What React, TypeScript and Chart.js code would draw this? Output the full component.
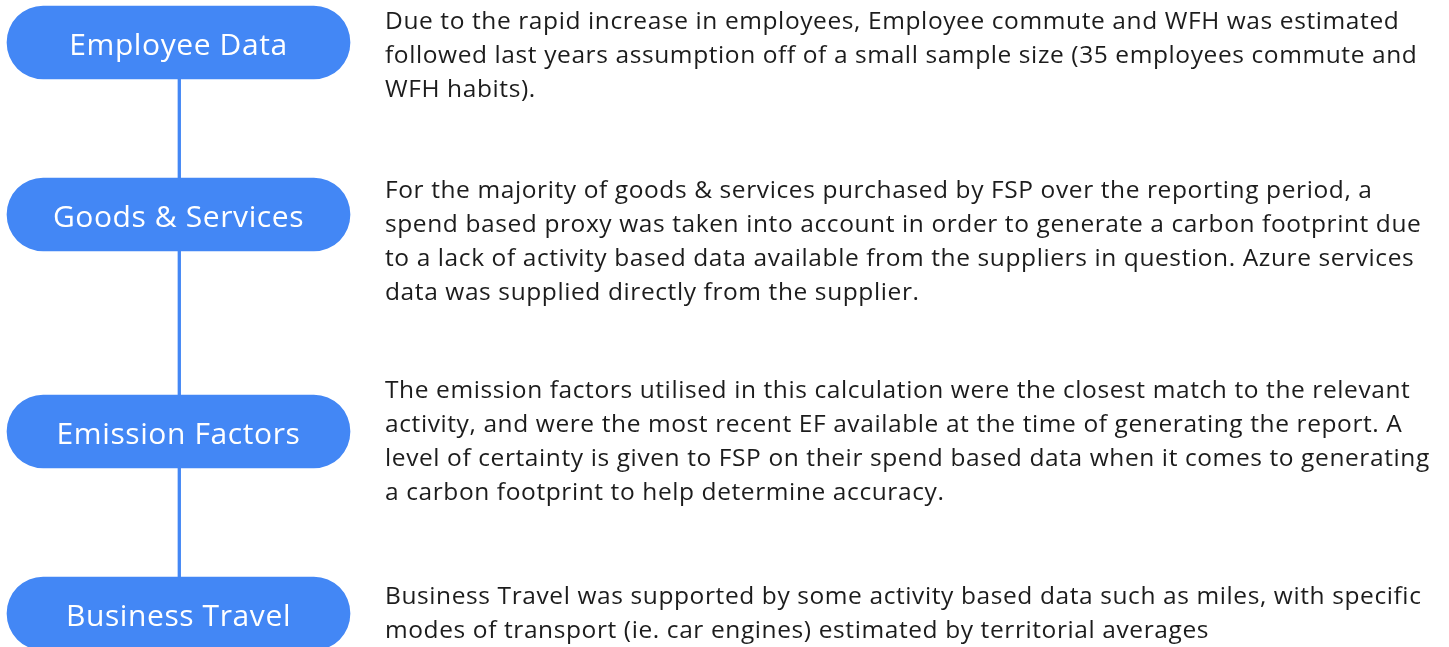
import React, { useEffect, useRef } from "react";
import { Chart, registerables } from "chart.js";

Chart.register(...registerables);

const WIDTH = 1449;
const HEIGHT = 647;

const steps = ["Employee Data", "Goods & Services", "Emission Factors", "Business Travel"];
const stepCenters = [42.5, 214.5, 431.5, 613.5];
const pillStart = 7;
const pillEnd = 350;
const connectorX = 179.3;

const descriptionX = 385;
const descriptionBaselines = [29.3, 198.3, 398.3, 603.7];
const lineStep = 33.8;
const descriptions: string[][] = [
  [
    "Due to the rapid increase in employees, Employee commute and WFH was estimated",
    "followed last years assumption off of a small sample size (35 employees commute and",
    "WFH habits).",
  ],
  [
    "For the majority of goods & services purchased by FSP over the reporting period, a",
    "spend based proxy was taken into account in order to generate a carbon footprint due",
    "to a lack of activity based data available from the suppliers in question. Azure services",
    "data was supplied directly from the supplier.",
  ],
  [
    "The emission factors utilised in this calculation were the closest match to the relevant",
    "activity, and were the most recent EF available at the time of generating the report. A",
    "level of certainty is given to FSP on their spend based data when it comes to generating",
    "a carbon footprint to help determine accuracy.",
  ],
  [
    "Business Travel was supported by some activity based data such as miles, with specific",
    "modes of transport (ie. car engines) estimated by territorial averages",
  ],
];

const BLUE = "#4387f5";
const TEXT = "#1c1c1c";
const FONT = "'Open Sans', Lato, sans-serif";

const textPlugin = {
  id: "timelineText",
  afterDatasetsDraw(chart: any) {
    const ctx = chart.ctx as any;
    const meta = chart.getDatasetMeta(1);
    ctx.save();
    ctx.fillStyle = "#ffffff";
    ctx.font = `400 30px ${FONT}`;
    ctx.letterSpacing = "0.6px";
    ctx.textAlign = "center";
    ctx.textBaseline = "alphabetic";
    meta.data.forEach((el: any, i: number) => {
      const cx = (el.x + el.base) / 2;
      ctx.fillText(steps[i], cx, el.y + 12.2);
    });
    ctx.fillStyle = TEXT;
    ctx.font = `400 24.5px ${FONT}`;
    ctx.letterSpacing = "0.6px";
    ctx.textAlign = "left";
    const xs = chart.scales.x;
    const ys = chart.scales.y;
    descriptions.forEach((lines, i) => {
      lines.forEach((line, k) => {
        const y = ys.getPixelForValue(descriptionBaselines[i] + k * lineStep);
        ctx.fillText(line, xs.getPixelForValue(descriptionX), y);
      });
    });
    ctx.restore();
  },
};

export default function App() {
  const ref = useRef<HTMLCanvasElement | null>(null);
  useEffect(() => {
    if (!ref.current) return;
    const chart = new Chart(ref.current, {
      type: "bar",
      data: {
        datasets: [
          {
            type: "line",
            data: stepCenters.map((y) => ({ x: connectorX, y })),
            borderColor: BLUE,
            borderWidth: 3.3,
            pointRadius: 0,
            order: 2,
          } as any,
          {
            type: "bar",
            data: stepCenters.map((y) => ({ x: [pillStart, pillEnd], y })),
            backgroundColor: BLUE,
            barThickness: 73,
            borderRadius: 36.5,
            borderSkipped: false,
            order: 1,
          } as any,
        ],
      },
      options: {
        indexAxis: "y",
        responsive: false,
        animation: false,
        layout: { padding: 0 },
        plugins: { legend: { display: false }, tooltip: { enabled: false } },
        scales: {
          x: { type: "linear", min: 0, max: WIDTH, display: false, offset: false },
          y: { type: "linear", min: 0, max: HEIGHT, reverse: true, display: false, offset: false },
        },
      } as any,
      plugins: [textPlugin],
    });
    return () => chart.destroy();
  }, []);
  return (
    <div style={{ position: "fixed", left: 0, top: 0, width: WIDTH, height: HEIGHT, background: "#fff" }}>
      <canvas ref={ref} width={WIDTH} height={HEIGHT} style={{ display: "block" }} />
    </div>
  );
}
